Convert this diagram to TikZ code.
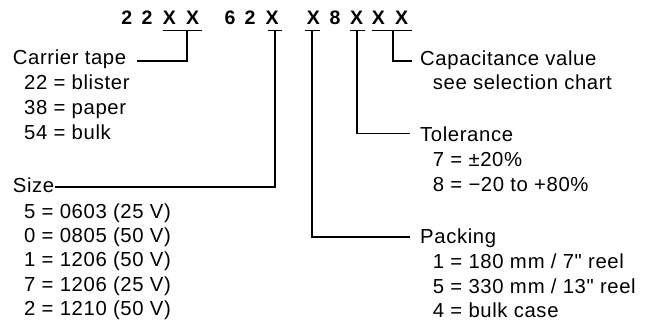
\documentclass[tikz,border=0pt]{standalone}
\usepackage{fontspec}
\setmainfont{Liberation Sans}[LetterSpace=3,Ligatures=TeXOff]
\begin{document}
\begin{tikzpicture}[x=1pt,y=-1pt,
  txt/.style={anchor=base west,inner sep=0pt,font=\fontsize{20.3}{22}\selectfont},
  code/.style={anchor=base,inner sep=0pt,font=\fontsize{19.5}{22}\selectfont\bfseries},
  ln/.style={line width=1.9pt,line cap=butt}]
\useasboundingbox (0,0) rectangle (645,328);
% code characters
\node[code] (c1) at (126.7,24.5) {2};
\node[code] (c2) at (147,24.5) {2};
\node[code] (c3) at (169.3,24.5) {X};
\node[code] (c4) at (192.7,24.5) {X};
\node[code] (c5) at (230,24.5) {6};
\node[code] (c6) at (250,24.5) {2};
\node[code] (c7) at (272,24.5) {X};
\node[code] (c8) at (313.3,24.5) {X};
\node[code] (c9) at (335,24.5) {8};
\node[code] (c10) at (356.7,24.5) {X};
\node[code] (c11) at (378.3,24.5) {X};
\node[code] (c12) at (401.7,24.5) {X};
% left texts
\node[txt] (carrier) at (12.7,65) {Carrier tape};
\node[txt] (ct1) at (24,90) {22 = blister};
\node[txt] (ct2) at (24,115) {38 = paper};
\node[txt] (ct3) at (24,140) {54 = bulk};
\node[txt] (size) at (12.7,193) {Size};
\node[txt] (s1) at (24,218.5) {5 = 0603 (25 V)};
\node[txt] (s2) at (24,242.5) {0 = 0805 (50 V)};
\node[txt] (s3) at (24,267) {1 = 1206 (50 V)};
\node[txt] (s4) at (24,291.5) {7 = 1206 (25 V)};
\node[txt] (s5) at (24,315.5) {2 = 1210 (50 V)};
% right texts
\node[txt] (cap) at (420,66) {Capacitance value};
\node[txt] (cap1) at (432.7,90) {see selection chart};
\node[txt] (tol) at (420,141.7) {Tolerance};
\node[txt] (tol1) at (432.7,166.5) {7 = ±20\%};
\node[txt] (tol2) at (432.7,191.5) {8 = −20 to +80\%};
\node[txt] (pack) at (420,244) {Packing};
\node[txt] (p1) at (432.7,268.3) {1 = 180 m\kern1pt m / 7" reel};
\node[txt] (p2) at (432.7,293.3) {5 = 330 m\kern1pt m / 13" reel};
\node[txt] (p3) at (432.7,318) {4 = bulk case};
% underline coordinates
\coordinate (ua1) at (162.7,30.5); \coordinate (ua2) at (201.7,30.5);
\coordinate (ub1) at (267.7,30.5); \coordinate (ub2) at (282.3,30.5);
\coordinate (uc1) at (305,30.5);   \coordinate (uc2) at (320,30.5);
\coordinate (ud1) at (350,30.5);   \coordinate (ud2) at (365,30.5);
\coordinate (ue1) at (371.7,30.5); \coordinate (ue2) at (411.7,30.5);
% leader ends
\coordinate (ea) at (137,61);
\coordinate (eb) at (55,186.7);
\coordinate (ec) at (410,236.7);
\coordinate (ed) at (410,133.5);
\coordinate (ee) at (411.7,60.7);
\draw[ln] (ua1) -- (ua2);
\draw[ln] (ub1) -- (ub2);
\draw[ln] (uc1) -- (uc2);
\draw[ln] (ud1) -- (ud2);
\draw[ln] (ue1) -- (ue2);
\draw[ln] (187.3,30.5) |- (ea);
\draw[ln] (275,30.5) |- (eb);
\draw[ln] (312.3,30.5) |- (ec);
\draw[ln] (357.3,30.5) |- (ed);
\draw[ln] (392.7,30.5) |- (ee);
\end{tikzpicture}
\end{document}
